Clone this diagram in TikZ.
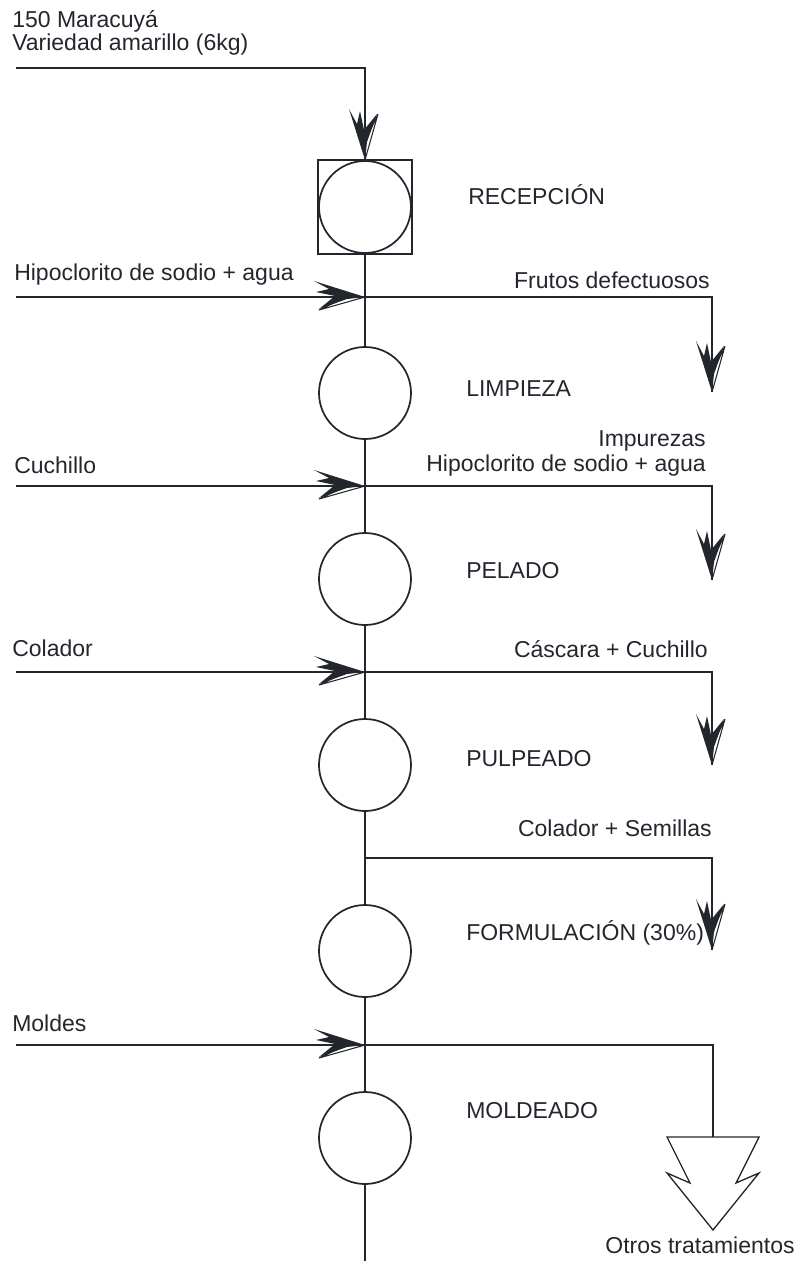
\documentclass[tikz,border=0pt]{standalone}
\usepackage{fontspec}
\setmainfont{Liberation Sans}
\definecolor{ink}{HTML}{23272D}
\begin{document}
\begin{tikzpicture}[x=0.75pt,y=-0.75pt,
  ln/.style={line width=1.3pt, draw=ink},
  op/.style={circle, draw=ink, line width=1.3pt, minimum size=69pt, inner sep=0pt, outer sep=0pt},
  lbl/.style={font=\fontsize{17.25}{20}\selectfont, text=ink, inner sep=0pt},
  % hand-drawn style arrowhead, tip at the origin, pointing along +x
  sketchhead/.pic={
    \fill[ink] (0,0) -- (-51,-16) -- (-36,-8) -- (-49,-5) -- (-30,-1) -- (-46,12) -- (-18,2) -- cycle;
    \draw[ink, line width=0.8pt, line join=miter] (0,0) -- (-46,13) -- (-27,4) -- (-26,-2);
  }
]
\useasboundingbox (0,0) rectangle (803,1261);

% process stations
\node[draw=ink, line width=1.3pt, minimum size=70.5pt, inner sep=0pt, outer sep=0pt] (recbox) at (365,207) {};
\node[op] (rec)  at (365,207) {};
\node[op] (limp) at (365,393) {};
\node[op] (pel)  at (365,579) {};
\node[op] (pulp) at (365,765) {};
\node[op] (form) at (365,951) {};
\node[op] (mold) at (365,1138) {};

% junctions on the main line
\coordinate (j1) at (365,297);
\coordinate (j2) at (365,486);
\coordinate (j3) at (365,672);
\coordinate (j4) at (365,858);
\coordinate (j5) at (365,1045);
\coordinate (mend) at (365,1261);

% inputs
\coordinate (in0) at (16,68);
\coordinate (c0)  at (365,68);
\coordinate (in1) at (16,297);
\coordinate (in2) at (16,486);
\coordinate (in3) at (16,672);
\coordinate (in5) at (16,1045);

% outputs
\coordinate (k1) at (712,297);  \coordinate (o1) at (712,392);
\coordinate (k2) at (712,486);  \coordinate (o2) at (712,580);
\coordinate (k3) at (712,672);  \coordinate (o3) at (712,765);
\coordinate (k4) at (712,858);  \coordinate (o4) at (712,950);
\coordinate (k5) at (713,1045); \coordinate (tri) at (713,1137);

% main flow line
\draw[ln] (recbox.south) -- (j1) -- (limp.north);
\draw[ln] (limp.south) -- (j2) -- (pel.north);
\draw[ln] (pel.south) -- (j3) -- (pulp.north);
\draw[ln] (pulp.south) -- (j4) -- (form.north);
\draw[ln] (form.south) -- (j5) -- (mold.north);
\draw[ln] (mold.south) -- (mend);

% input lines with heads
\draw[ln] (in0) -- (c0) -- (recbox.north);
\pic[rotate=-90, yscale=-1] at (recbox.north) {sketchhead};
\draw[ln] (in1) -- (j1);
\pic at (j1) {sketchhead};
\draw[ln] (in2) -- (j2);
\pic at (j2) {sketchhead};
\draw[ln] (in3) -- (j3);
\pic at (j3) {sketchhead};
\draw[ln] (in5) -- (j5);
\pic at (j5) {sketchhead};

% output lines with heads
\draw[ln] (j1) -- (k1) -- (o1);
\pic[rotate=-90, yscale=-1] at (o1) {sketchhead};
\draw[ln] (j2) -- (k2) -- (o2);
\pic[rotate=-90, yscale=-1] at (o2) {sketchhead};
\draw[ln] (j3) -- (k3) -- (o3);
\pic[rotate=-90, yscale=-1] at (o3) {sketchhead};
\draw[ln] (j4) -- (k4) -- (o4);
\pic[rotate=-90, yscale=-1] at (o4) {sketchhead};
\draw[ln] (j5) -- (k5) -- (tri);

% large open arrow for further treatments
\draw[ink, line width=1pt, line join=miter, shift={(713,1137)}]
  (-46,0) -- (-23,46) -- (-46,36) -- (0,93) -- (46,36) -- (23,46) -- (46,0) -- cycle;

% labels
\node[lbl, anchor=base west] (t0a) at (12,27) {150 Maracuyá};
\node[lbl, anchor=base west] (t0b) at (12,50) {Variedad amarillo (6kg)};
\node[lbl, anchor=base west] (trec) at (468,204) {RECEPCIÓN};
\node[lbl, anchor=base west] (t1) at (14,280) {Hipoclorito de sodio + agua};
\node[lbl, anchor=base east] (u1) at (710,288) {Frutos defectuosos};
\node[lbl, anchor=base west] (tlimp) at (466,396) {LIMPIEZA};
\node[lbl, anchor=base east] (u2a) at (706,446) {Impurezas};
\node[lbl, anchor=base east] (u2b) at (706,471) {Hipoclorito de sodio + agua};
\node[lbl, anchor=base west] (t2) at (14,473) {Cuchillo};
\node[lbl, anchor=base west] (tpel) at (466,578) {PELADO};
\node[lbl, anchor=base west] (t3) at (12,656) {Colador};
\node[lbl, anchor=base east] (u3) at (708,657) {Cáscara + Cuchillo};
\node[lbl, anchor=base west] (tpulp) at (466,766) {PULPEADO};
\node[lbl, anchor=base east] (u4) at (712,836) {Colador + Semillas};
\node[lbl, anchor=base west] (tform) at (466,940) {FORMULACIÓN (30\%)};
\node[lbl, anchor=base west] (t5) at (12,1031) {Moldes};
\node[lbl, anchor=base west] (tmold) at (466,1118) {MOLDEADO};
\node[lbl, anchor=base] (u5) at (700,1253) {Otros tratamientos};
\end{tikzpicture}
\end{document}
